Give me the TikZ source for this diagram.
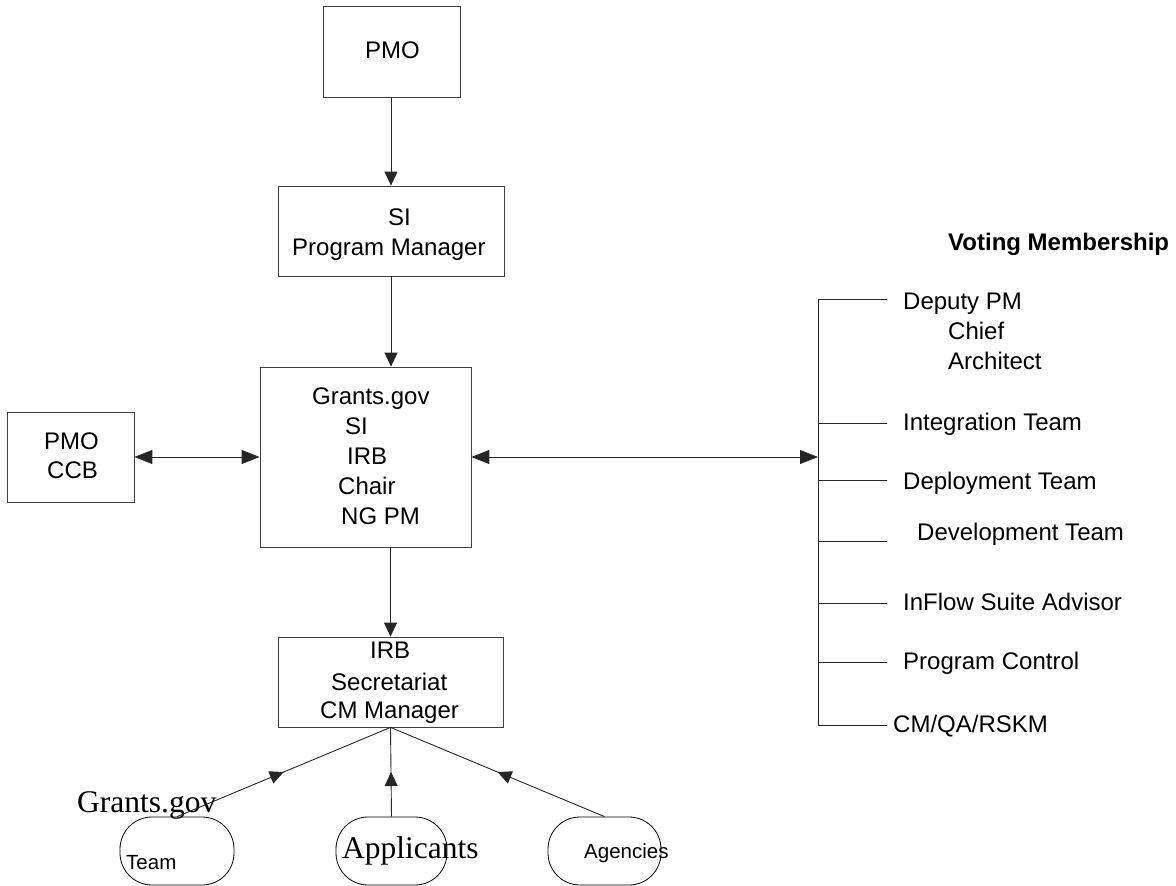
\documentclass[tikz,border=0pt]{standalone}
\usepackage{fontspec}
\setmainfont{Liberation Sans}
\newfontfamily\timesfont{Liberation Serif}
\usetikzlibrary{arrows.meta,decorations.markings}
\begin{document}
\begin{tikzpicture}[x=1pt,y=-1pt,
  box/.style={draw=black!75, line width=0.8pt, inner sep=0pt},
  blob/.style={draw=black, line width=0.8pt, inner sep=0pt, rounded corners=32pt},
  lbl/.style={anchor=base west, inner sep=0pt, font=\fontsize{24}{28}\selectfont},
  bold/.style={lbl, font=\fontsize{24}{28}\selectfont\bfseries},
  small/.style={lbl, font=\fontsize{20.5}{24}\selectfont},
  serif/.style={lbl, font=\fontsize{31.5}{36}\selectfont\timesfont},
  conn/.style={line width=0.9pt, draw=black!85},
  tipend/.style={-{Triangle[length=14pt,width=13pt]}},
  tipboth/.style={{Triangle[length=18pt,width=14pt]}-{Triangle[length=18pt,width=14pt]}},
  midtip/.style={decoration={markings, mark=at position 0.5 with {\arrow{Triangle[length=14pt,width=13pt]}}}, postaction={decorate}}
]
\useasboundingbox (0,0) rectangle (1176,886);

% boxes
\node[box, minimum width=137pt, minimum height=91pt] (pmo) at (391.5,51.5) {};
\node[box, minimum width=226pt, minimum height=90pt] (si) at (391,231) {};
\node[box, minimum width=211pt, minimum height=180pt] (grants) at (365.5,457) {};
\node[box, minimum width=127pt, minimum height=90pt] (ccb) at (70.5,457) {};
\node[box, minimum width=225pt, minimum height=90pt] (irb) at (390.5,682) {};

% bottom blobs
\node[blob, minimum width=114pt, minimum height=68pt] (team) at (177,851) {};
\node[blob, minimum width=111pt, minimum height=68pt] (appl) at (391.5,851) {};
\node[blob, minimum width=113pt, minimum height=68pt] (agen) at (604.5,851) {};

% box texts
\node[lbl] (tpmo) at (365,58) {PMO};
\node[lbl] (tsi1) at (388,225) {SI};
\node[lbl] (tsi2) at (292,255) {Program Manager};
\node[lbl] (tg1) at (312,404) {Grants.gov};
\node[lbl] (tg2) at (345,434) {SI};
\node[lbl] (tg3) at (347,464) {IRB};
\node[lbl] (tg4) at (338,494) {Chair};
\node[lbl] (tg5) at (341,524) {NG PM};
\node[lbl] (tc1) at (44,449) {PMO};
\node[lbl] (tc2) at (47,478) {CCB};
\node[lbl] (ti1) at (370,658) {IRB};
\node[lbl] (ti2) at (331,690) {Secretariat};
\node[lbl] (ti3) at (320,718) {CM Manager};

% bottom texts
\node[serif] (tgov) at (77,812) {Grants.gov};
\node[small] (tteam) at (126,869) {Team};
\node[serif] (tappl) at (342,858) {Applicants};
\node[small] (tagen) at (584,858) {Agencies};

% right side
\node[bold] (vote) at (948,250) {Voting Membership};
\coordinate (vt) at (818,299);
\coordinate (vb) at (818,725);
\coordinate (va) at (818,457);
\coordinate (k1) at (887,299);
\coordinate (k2) at (887,423);
\coordinate (k3) at (887,480);
\coordinate (k4) at (887,541);
\coordinate (k5) at (887,603);
\coordinate (k6) at (887,662);
\coordinate (k7) at (887,725);
\node[lbl] (r1) at (903,309) {Deputy PM};
\node[lbl] (r1b) at (948,339) {Chief};
\node[lbl] (r1c) at (948,369) {Architect};
\node[lbl] (r2) at (903,430) {Integration Team};
\node[lbl] (r3) at (903,489) {Deployment Team};
\node[lbl] (r4) at (917,540) {Development Team};
\node[lbl] (r5) at (903,610) {InFlow Suite Advisor};
\node[lbl] (r6) at (903,669) {Program Control};
\node[lbl] (r7) at (893,732) {CM/QA/RSKM};

% connectors
\draw[conn, tipend] (pmo.south -| si.north) -- (si.north);
\draw[conn, tipend] (si.south) -- (si.south |- grants.north);
\draw[conn, tipend] (grants.south -| irb.north) -- (irb.north);
\draw[conn, tipboth] (ccb.east) -- (grants.west);
\draw[conn, tipboth] (grants.east) -- (va);
\draw[conn] (vt) -- (vb);
\foreach \k in {k1,k2,k3,k4,k5,k6,k7} \draw[conn] (\k -| vt) -- (\k);

\draw[conn, midtip] (team.north) -- (irb.south);
\draw[conn, midtip] (appl.north) -- (irb.south);
\draw[conn, midtip] (agen.north) -- (irb.south);
\end{tikzpicture}
\end{document}
